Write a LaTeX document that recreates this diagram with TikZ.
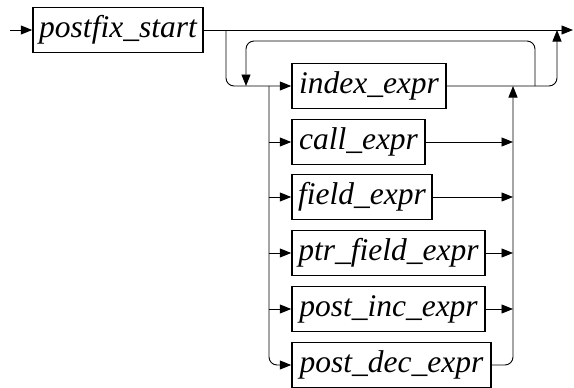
\documentclass[tikz,border=0pt]{standalone}
\usepackage{fontspec}
\setmainfont{Liberation Serif}
\usetikzlibrary{arrows.meta}
\begin{document}
\begin{tikzpicture}[x=1pt,y=-1pt,
  box/.style={draw,line width=1.5pt,minimum height=45pt,inner sep=0pt,font=\fontsize{31.5}{36}\selectfont\itshape},
  conn/.style={line width=0.9pt},
  arr/.style={conn,-{Triangle[length=11.5pt,width=9pt]}},
  rc/.style={rounded corners=8pt}]
\useasboundingbox (0,0) rectangle (574,388);
\node[box,minimum width=170pt] (start) at (118,30) {postfix\_start};
\node[box,minimum width=154pt] (index) at (369,86) {index\_expr};
\node[box,minimum width=133pt] (call) at (358.5,142) {call\_expr};
\node[box,minimum width=140pt] (field) at (362,197) {field\_expr};
\node[box,minimum width=193pt] (ptr) at (388.5,253) {ptr\_field\_expr};
\node[box,minimum width=193pt] (inc) at (388.5,309) {post\_inc\_expr};
\node[box,minimum width=199pt] (dec) at (391.5,365) {post\_dec\_expr};
\coordinate (in) at (10,30);
\coordinate (out) at (573,30);
\coordinate (br) at (226,30);
\coordinate (lv) at (269,86);
\coordinate (rv) at (513,86);
\coordinate (lpR) at (535,86);
\coordinate (lpL) at (246,86);
\coordinate (ex) at (557,30);
\draw[arr] (in) -- (start.west);
\draw[arr] (start.east) -- (out);
\draw[arr,rc] (br) |- (index.west);
\draw[arr,rc] (lv) |- (dec.west);
\draw[arr] (lv |- call.west) -- (call.west);
\draw[arr] (lv |- field.west) -- (field.west);
\draw[arr] (lv |- ptr.west) -- (ptr.west);
\draw[arr] (lv |- inc.west) -- (inc.west);
\draw[arr,rc] (lpR) -- (535,41) -- (246,41) -- (lpL);
\draw[arr,rc] (index.east) -| (ex);
\draw[arr,rc] (dec.east) -| (rv);
\draw[arr] (call.east) -- (rv |- call.east);
\draw[arr] (field.east) -- (rv |- field.east);
\draw[arr] (ptr.east) -- (rv |- ptr.east);
\draw[arr] (inc.east) -- (rv |- inc.east);
\end{tikzpicture}
\end{document}
